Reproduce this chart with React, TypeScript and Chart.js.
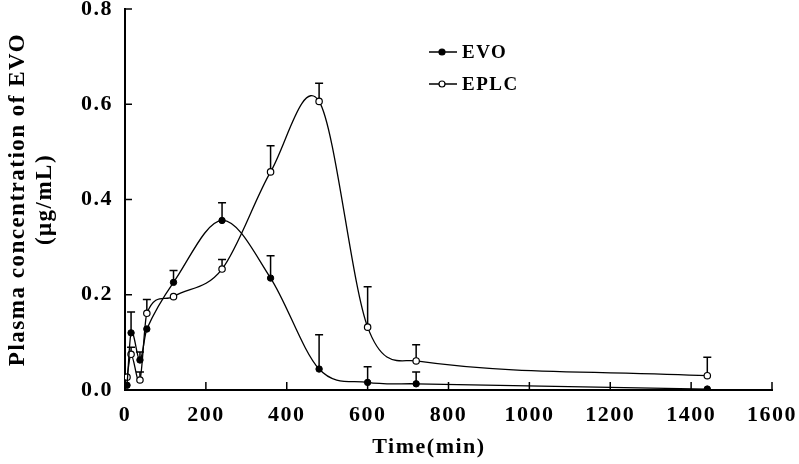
import React, { useEffect, useRef } from "react";
import { Chart, registerables } from "chart.js";

Chart.register(...registerables);

// ---- data ----
const times = [5, 15, 37, 54, 120, 240, 360, 480, 600, 720, 1440];
const evoMean = [0.01, 0.12, 0.063, 0.128, 0.226, 0.356, 0.235, 0.044, 0.016, 0.013, 0.002];
const evoSD = [0, 0.044, 0.017, 0, 0.025, 0.037, 0.047, 0.072, 0.033, 0.025, 0];
const eplcMean = [0.027, 0.075, 0.021, 0.161, 0.196, 0.254, 0.458, 0.606, 0.132, 0.061, 0.03];
const eplcSD = [0, 0.015, 0.017, 0.029, 0, 0.02, 0.055, 0.038, 0.085, 0.034, 0.039];
const seriesNames = ["EVO", "EPLC"];
const xTickValues = [0, 200, 400, 600, 800, 1000, 1200, 1400, 1600];
const yTickValues = [0, 0.2, 0.4, 0.6, 0.8];
const xTitle = "Time(min)";
const yTitle = ["Plasma concentration of EVO", "(\u03bcg/mL)"];

const FONT = "'Liberation Serif', 'Times New Roman', serif";

const customPlugin = {
  id: "customDecor",
  beforeDraw(chart: any) {
    (chart.ctx as any).letterSpacing = "1.5px";
  },
  beforeDatasetDraw(chart: any, args: any) {
    // smooth curve in the style of a spreadsheet "smoothed line":
    // Hermite tangents from neighbouring points, control arms = 1/3 of x-gap
    const meta = args.meta;
    const pts = meta.data;
    const n = pts.length;
    for (let i = 0; i < n; i++) {
      const p = pts[i];
      const prev = pts[i - 1];
      const next = pts[i + 1];
      if (prev && next) {
        const dxl = p.x - prev.x;
        const dxr = next.x - p.x;
        const s = dxl + dxr || 1;
        const tx = next.x - prev.x;
        const ty = next.y - prev.y;
        p.cp1x = p.x - (tx * dxl) / s / 3;
        p.cp1y = p.y - (ty * dxl) / s / 3;
        p.cp2x = p.x + (tx * dxr) / s / 3;
        p.cp2y = p.y + (ty * dxr) / s / 3;
      } else if (next) {
        p.cp1x = p.x;
        p.cp1y = p.y;
        p.cp2x = p.x + (next.x - p.x) / 3;
        p.cp2y = p.y + (next.y - p.y) / 3;
      } else if (prev) {
        p.cp1x = p.x - (p.x - prev.x) / 3;
        p.cp1y = p.y - (p.y - prev.y) / 3;
        p.cp2x = p.x;
        p.cp2y = p.y;
      }
    }
    if (meta.dataset) {
      meta.dataset._pointsUpdated = true;
      meta.dataset._path = undefined;
    }
  },
  beforeDatasetsDraw(chart: any) {
    const ctx = chart.ctx;
    const xs = chart.scales.x;
    const ys = chart.scales.y;
    ctx.save();
    ctx.strokeStyle = "#000";
    ctx.lineWidth = 1.5;
    const groups: [number[], number[]][] = [
      [evoMean, evoSD],
      [eplcMean, eplcSD],
    ];
    groups.forEach(([m, sd]) => {
      times.forEach((t, i) => {
        if (!sd[i]) return;
        const px = xs.getPixelForValue(t);
        const y0 = ys.getPixelForValue(m[i]);
        const y1 = ys.getPixelForValue(m[i] + sd[i]);
        ctx.beginPath();
        ctx.moveTo(px, y0);
        ctx.lineTo(px, y1);
        ctx.moveTo(px - 4, y1);
        ctx.lineTo(px + 4, y1);
        ctx.stroke();
      });
    });
    ctx.restore();
  },
  afterDraw(chart: any) {
    const ctx = chart.ctx;
    const xs = chart.scales.x;
    const ys = chart.scales.y;
    const area = chart.chartArea;
    ctx.save();
    ctx.strokeStyle = "#000";
    ctx.lineWidth = 1.5;
    // inward tick marks
    xTickValues.forEach((v) => {
      if (v === 0) return;
      const px = xs.getPixelForValue(v);
      ctx.beginPath();
      ctx.moveTo(px, area.bottom);
      ctx.lineTo(px, area.bottom - 8);
      ctx.stroke();
    });
    yTickValues.forEach((v) => {
      if (v === 0) return;
      const py = ys.getPixelForValue(v);
      ctx.beginPath();
      ctx.moveTo(area.left, py);
      ctx.lineTo(area.left + 7, py);
      ctx.stroke();
    });
    // x axis title (sits left of centre in the reference)
    ctx.fillStyle = "#000";
    ctx.font = `bold 22px ${FONT}`;
    ctx.textAlign = "center";
    ctx.textBaseline = "middle";
    ctx.fillText(xTitle, 429, 447);
    // legend
    const rows = [
      { name: seriesNames[0], y: 52, filled: true },
      { name: seriesNames[1], y: 84, filled: false },
    ];
    rows.forEach((r) => {
      ctx.lineWidth = 1.5;
      ctx.beginPath();
      ctx.moveTo(429, r.y);
      ctx.lineTo(457, r.y);
      ctx.stroke();
      ctx.beginPath();
      ctx.arc(442, r.y, 3, 0, Math.PI * 2);
      ctx.fillStyle = r.filled ? "#000" : "#fff";
      ctx.fill();
      ctx.lineWidth = 1.2;
      ctx.stroke();
      ctx.fillStyle = "#000";
      ctx.font = `bold 19px ${FONT}`;
      ctx.textBaseline = "middle";
      ctx.textAlign = "left";
      ctx.fillText(r.name, 462, r.y + 1);
    });
    ctx.restore();
    (ctx as any).letterSpacing = "0px";
  },
};

export default function App() {
  const ref = useRef<HTMLCanvasElement | null>(null);
  useEffect(() => {
    if (!ref.current) return;
    const tickFont = { family: FONT, size: 22, weight: "bold" as const };
    const chart = new Chart(ref.current, {
      type: "line",
      data: {
        datasets: [
          {
            label: seriesNames[0],
            data: times.map((t, i) => ({ x: t, y: evoMean[i] })),
            borderColor: "#000",
            borderWidth: 1.3,
            backgroundColor: "#000",
            pointBackgroundColor: "#000",
            pointBorderColor: "#000",
            pointRadius: 3.2,
            pointBorderWidth: 1,
            tension: 0.4,
            fill: false,
          },
          {
            label: seriesNames[1],
            data: times.map((t, i) => ({ x: t, y: eplcMean[i] })),
            borderColor: "#000",
            borderWidth: 1.3,
            backgroundColor: "#fff",
            pointBackgroundColor: "#fff",
            pointBorderColor: "#000",
            pointRadius: 3.2,
            pointBorderWidth: 1.2,
            tension: 0.4,
            fill: false,
          },
        ],
      },
      options: {
        animation: false,
        responsive: false,
        devicePixelRatio: 1,
        layout: { padding: { top: 9, right: 27, left: 0, bottom: 0 } },
        plugins: {
          legend: { display: false },
          tooltip: { enabled: false },
        },
        scales: {
          x: {
            type: "linear",
            min: 0,
            max: 1600,
            grid: { display: false, drawTicks: false },
            border: { display: true, color: "#000", width: 2 },
            ticks: {
              stepSize: 200,
              color: "#000",
              font: tickFont,
              padding: 12,
              maxRotation: 0,
              autoSkip: false,
              callback: (v: any) => String(v),
            },
            title: { display: false },
            afterFit(s: any) {
              s.height = 74;
              s.paddingLeft = 0;
              s.paddingRight = 0;
            },
          },
          y: {
            type: "linear",
            min: 0,
            max: 0.8,
            grid: { display: false, drawTicks: false },
            border: { display: true, color: "#000", width: 2 },
            ticks: {
              stepSize: 0.2,
              color: "#000",
              font: tickFont,
              padding: 12,
              callback: (v: any) => Number(v).toFixed(1),
            },
            title: {
              display: true,
              text: yTitle,
              color: "#000",
              font: { family: FONT, size: 23, weight: "bold" as const },
              padding: { top: 4, bottom: 0 },
            },
            afterFit(s: any) {
              s.width = 125;
              s.paddingTop = 0;
              s.paddingBottom = 0;
            },
          },
        },
      },
      plugins: [customPlugin],
    });
    return () => chart.destroy();
  }, []);
  return (
    <div style={{ position: "fixed", left: 0, top: 0, width: 799, height: 464, background: "#fff" }}>
      <canvas ref={ref} width={799} height={464} style={{ display: "block" }} />
    </div>
  );
}
